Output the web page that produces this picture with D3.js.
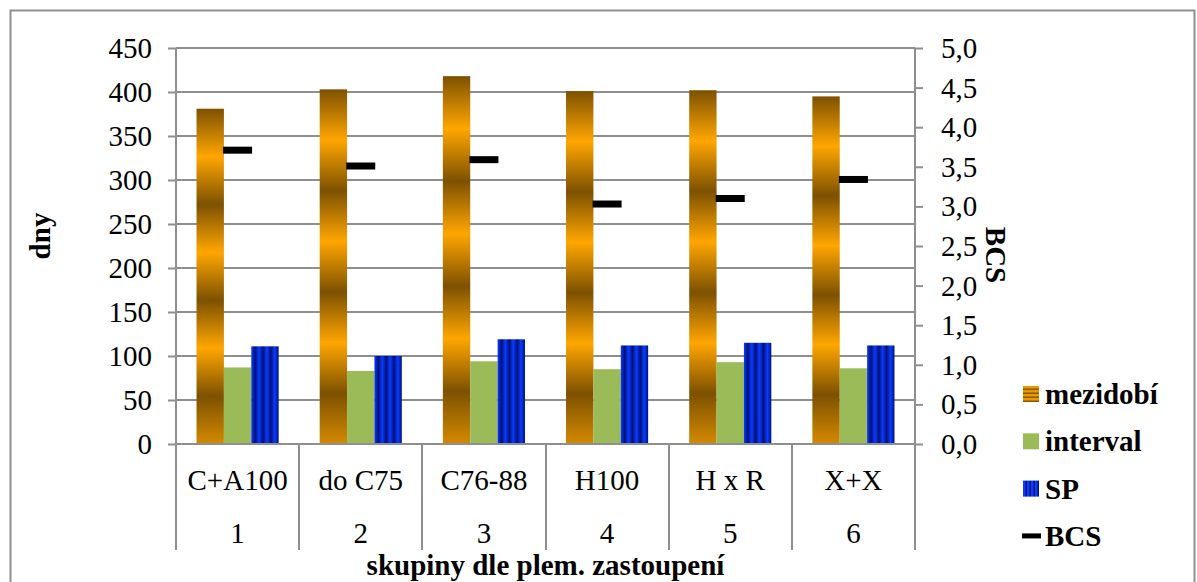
<!DOCTYPE html>
<html>
<head>
<meta charset="utf-8">
<script src="https://cdn.jsdelivr.net/npm/d3@7"></script>
<style>
  html, body { margin: 0; padding: 0; background: #fff; }
  svg { display: block; }
  text { font-family: "Liberation Serif", "Times New Roman", serif; fill: #000; }
</style>
</head>
<body>
<svg id="chart" width="1197" height="582"></svg>
<script>
// Groups by breed share (two-level category axis)
const categories = ["C+A100", "do C75", "C76-88", "H100", "H x R", "X+X"];
const groupNumbers = ["1", "2", "3", "4", "5", "6"];

// Days (left axis)
const mezidobi = [381, 403, 418, 401, 402, 395];
const interval = [87, 83, 94, 85, 93, 86];
const sp = [111, 100, 119, 112, 115, 112];

// Body condition score (right axis)
const bcs = [3.71, 3.51, 3.59, 3.03, 3.10, 3.34];

const leftTicks = [0, 50, 100, 150, 200, 250, 300, 350, 400, 450];
const rightTicks = [0, 0.5, 1, 1.5, 2, 2.5, 3, 3.5, 4, 4.5, 5];

const seriesNames = ["mezidobí", "interval", "SP"];
const seriesValues = [mezidobi, interval, sp];

const svg = d3.select("#chart");
const W = 1197, H = 582;
const plot = { left: 176, right: 915, top: 48, bottom: 444, catBottom: 550 };
const FS = 29;
const gridColor = "#8f8f8f";

// Outer chart frame
svg.append("rect")
  .attr("x", 10.5).attr("y", 10.5)
  .attr("width", W - 13).attr("height", H)
  .attr("fill", "none").attr("stroke", gridColor).attr("stroke-width", 2);

// Fills
const defs = svg.append("defs");
const orangeGrad = defs.append("linearGradient")
  .attr("id", "gradOrange").attr("x1", 0).attr("y1", 0).attr("x2", 0).attr("y2", 1);
const dark = "#7d5100", bright = "#ffa600";
[[0, dark], [1/7, bright], [2/7, dark], [3/7, bright], [4/7, dark], [5/7, bright], [6/7, dark], [1, "#d48a00"]]
  .forEach(([o, c]) => orangeGrad.append("stop").attr("offset", o).attr("stop-color", c));

const blueGrad = defs.append("linearGradient")
  .attr("id", "gradBlue").attr("x1", 0).attr("y1", 0).attr("x2", 1).attr("y2", 0);
const bDark = "#00107a", bLight = "#0a3cff";
const nStripes = 7;
for (let i = 0; i <= nStripes; i++) {
  blueGrad.append("stop").attr("offset", i / nStripes).attr("stop-color", i % 2 === 0 ? bLight : bDark);
}

// Legend pattern swatches
const pOr = defs.append("pattern").attr("id", "patOrange").attr("patternUnits", "userSpaceOnUse")
  .attr("width", 16).attr("height", 4);
pOr.append("rect").attr("width", 16).attr("height", 4).attr("fill", "#e89a00");
pOr.append("rect").attr("y", 2.5).attr("width", 16).attr("height", 1.5).attr("fill", "#8a5800");
const pBl = defs.append("pattern").attr("id", "patBlue").attr("patternUnits", "userSpaceOnUse")
  .attr("width", 4).attr("height", 16);
pBl.append("rect").attr("width", 4).attr("height", 16).attr("fill", "#0a3cff");
pBl.append("rect").attr("x", 2.5).attr("width", 1.5).attr("height", 16).attr("fill", "#00107a");

const fills = ["url(#gradOrange)", "#9bbb59", "url(#gradBlue)"];

// Scales
const x0 = d3.scaleBand().domain(categories).range([plot.left, plot.right]).paddingInner(0).paddingOuter(0);
const x1 = d3.scaleBand().domain(seriesNames).range([0, x0.bandwidth()]).paddingInner(0).paddingOuter(0.75);
const yL = d3.scaleLinear().domain([0, 450]).range([plot.bottom, plot.top]);
const yR = d3.scaleLinear().domain([0, 5]).range([plot.bottom, plot.top]);

// Gridlines
svg.append("g").selectAll("line").data(leftTicks).join("line")
  .attr("x1", plot.left).attr("x2", plot.right)
  .attr("y1", d => Math.round(yL(d))).attr("y2", d => Math.round(yL(d)))
  .attr("stroke", gridColor).attr("stroke-width", 2);

// Left axis
const gL = svg.append("g").attr("transform", `translate(${plot.left},0)`)
  .call(d3.axisLeft(yL).tickValues(leftTicks).tickSize(8).tickPadding(16).tickFormat(d3.format("d")));
gL.select(".domain").remove();
gL.selectAll(".tick line").attr("stroke", gridColor).attr("stroke-width", 2);
gL.selectAll(".tick text").attr("font-size", FS).attr("font-family", "Liberation Serif").attr("dy", "0.33em");

// Right axis
const gR = svg.append("g").attr("transform", `translate(${plot.right},0)`)
  .call(d3.axisRight(yR).tickValues(rightTicks).tickSize(8).tickPadding(18)
    .tickFormat(d => d.toFixed(1).replace(".", ",")));
gR.select(".domain").remove();
gR.selectAll(".tick line").attr("stroke", gridColor).attr("stroke-width", 2);
gR.selectAll(".tick text").attr("font-size", FS).attr("font-family", "Liberation Serif").attr("dy", "0.33em");

// Axis lines
svg.append("line").attr("x1", plot.left).attr("x2", plot.left)
  .attr("y1", plot.top).attr("y2", plot.catBottom).attr("stroke", gridColor).attr("stroke-width", 2);
svg.append("line").attr("x1", plot.right).attr("x2", plot.right)
  .attr("y1", plot.top).attr("y2", plot.bottom).attr("stroke", gridColor).attr("stroke-width", 2);

// Bars
const groups = svg.append("g").selectAll("g").data(categories).join("g")
  .attr("transform", d => `translate(${x0(d)},0)`);
groups.selectAll("rect")
  .data((d, i) => seriesNames.map((s, k) => ({ s, k, v: seriesValues[k][i] })))
  .join("rect")
  .attr("x", d => x1(d.s))
  .attr("width", x1.bandwidth())
  .attr("y", d => yL(d.v))
  .attr("height", d => yL(0) - yL(d.v))
  .attr("fill", d => fills[d.k]);

// BCS markers on the secondary axis
svg.append("g").selectAll("rect").data(categories).join("rect")
  .attr("x", d => x0(d) + x0.bandwidth() / 2 - 14.5)
  .attr("width", 29)
  .attr("y", (d, i) => yR(bcs[i]) - 3.5)
  .attr("height", 7)
  .attr("fill", "#000");

// Category axis (two levels)
svg.append("line").attr("x1", plot.left).attr("x2", plot.right)
  .attr("y1", plot.bottom).attr("y2", plot.bottom).attr("stroke", gridColor).attr("stroke-width", 2);
const bounds = categories.map(c => x0(c)).concat([plot.right]);
svg.append("g").selectAll("line").data(bounds).join("line")
  .attr("x1", d => Math.round(d)).attr("x2", d => Math.round(d))
  .attr("y1", plot.bottom).attr("y2", plot.catBottom)
  .attr("stroke", gridColor).attr("stroke-width", 2);
svg.append("g").selectAll("text").data(categories).join("text")
  .attr("x", d => x0(d) + x0.bandwidth() / 2)
  .attr("y", 490)
  .attr("text-anchor", "middle").attr("font-size", FS)
  .text(d => d);
svg.append("g").selectAll("text").data(groupNumbers).join("text")
  .attr("x", (d, i) => x0(categories[i]) + x0.bandwidth() / 2)
  .attr("y", 543)
  .attr("text-anchor", "middle").attr("font-size", FS)
  .text(d => d);

// Axis titles
svg.append("text")
  .attr("transform", `translate(50,236) rotate(-90)`)
  .attr("text-anchor", "middle").attr("font-size", FS).attr("font-weight", "bold")
  .text("dny");
svg.append("text")
  .attr("transform", `translate(986,255) rotate(90)`)
  .attr("text-anchor", "middle").attr("font-size", FS).attr("font-weight", "bold")
  .text("BCS");
svg.append("text")
  .attr("x", (plot.left + plot.right) / 2).attr("y", 575)
  .attr("text-anchor", "middle").attr("font-size", FS).attr("font-weight", "bold")
  .text("skupiny dle plem. zastoupení");

// Legend
const legendItems = [
  { name: "mezidobí", kind: "box", fill: "url(#patOrange)" },
  { name: "interval", kind: "box", fill: "#9bbb59" },
  { name: "SP", kind: "box", fill: "url(#patBlue)" },
  { name: "BCS", kind: "line", fill: "#000" }
];
const lg = svg.append("g").selectAll("g").data(legendItems).join("g")
  .attr("transform", (d, i) => `translate(1023,${394 + i * 47.3})`);
lg.filter(d => d.kind === "box").append("rect")
  .attr("x", 0).attr("y", -8).attr("width", 16).attr("height", 16).attr("fill", d => d.fill);
lg.filter(d => d.kind === "line").append("rect")
  .attr("x", -1).attr("y", -2.5).attr("width", 19).attr("height", 5).attr("fill", "#000");
lg.append("text")
  .attr("x", 22).attr("y", 10)
  .attr("font-size", FS).attr("font-weight", "bold")
  .text(d => d.name);
</script>
</body>
</html>
